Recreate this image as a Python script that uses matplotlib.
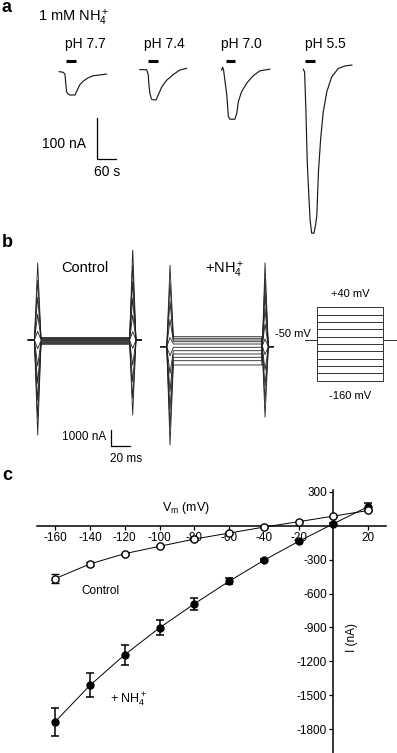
import matplotlib
matplotlib.use('Agg')
import matplotlib.pyplot as plt

plt.rcParams['font.family'] = ['Liberation Sans', 'DejaVu Sans']
plt.rcParams['mathtext.fontset'] = 'custom'
plt.rcParams['mathtext.rm'] = 'Liberation Sans'
plt.rcParams['mathtext.it'] = 'Liberation Sans:italic'
plt.rcParams['mathtext.bf'] = 'Liberation Sans:bold'

W, H, DPI = 397, 753, 100

# ---------------- panel a data (time s from trace start, current nA) ----------
ph_labels = ['pH 7.7', 'pH 7.4', 'pH 7.0', 'pH 5.5']
a_t_77 = [0, 12, 18, 20, 23, 27, 33, 49, 54, 64, 75, 90, 106, 127, 147]
a_i_77 = [0, -1.5, -6, -25, -49, -54, -57, -57, -49, -32, -23, -15, -10, -8, -6]
a_t_74 = [0, 21, 26, 28, 31, 36, 43, 50, 57, 68, 83, 104, 124, 145]
a_i_74 = [0, -0.5, -13, -38, -58, -72, -74, -74, -62, -42, -26, -12, -1, 3]
a_t_70 = [0, 3, 6, 10, 16, 21, 26, 41, 47, 52, 62, 78, 98, 119, 150]
a_i_70 = [0, 7, 0, -24, -61, -114, -120, -120, -106, -77, -53, -32, -14, -2, 2]
a_t_55 = [0, 4, 8, 12, 16, 21, 26, 33, 38, 42, 47, 54, 62, 73, 88, 109, 130, 151]
a_i_55 = [0, -7, -100, -222, -291, -368, -400, -400, -380, -356, -250, -168, -104,
          -55, -19, 2, 8, 10]
a_bar_start = [21, 25, 13, 5]     # s, NH4+ application start
a_bar_len = 30                    # s

# ---------------- panel b data -------------------------------------------------
step_mV = [40, 20, 0, -20, -40, -60, -80, -100, -120, -140, -160]
hold_mV = -50
ctrl_hold = 0
ctrl_level = [150, 115, 80, 45, 10, -30, -75, -120, -165, -215, -270]
ctrl_on = [4810, 3740, 2670, 1600, 530, -540, -1620, -2700, -3780, -4860, -5940]
ctrl_off = [-4690, -3640, -2600, -1560, -520, 520, 1560, 2600, 3640, 4680, 5720]
nh4_hold = -420
nh4_level = [206, 106, 0, -106, -250, -456, -669, -875, -1081, -1294, -1562]
nh4_on = [5100, 3970, 2840, 1700, 570, -560, -1680, -2800, -3910, -5030, -6150]
nh4_off = [-4400, -3420, -2440, -1470, -490, 480, 1430, 2390, 3340, 4290, 5250]

# ---------------- panel c data -------------------------------------------------
vm = [-160, -140, -120, -100, -80, -60, -40, -20, 0, 20]
ctrl_I = [-468, -338, -247, -182, -118, -65, -12, 36, 85, 135]
ctrl_err = [37, 20, 8, 8, 8, 8, 5, 5, 5, 5]
nh4_I = [-1733, -1412, -1141, -903, -691, -491, -306, -138, 18, 170]
nh4_err = [125, 107, 90, 66, 52, 27, 10, 10, 10, 27]
xticks_c = [-160, -140, -120, -100, -80, -60, -40, -20, 20]
yticks_c = [300, -300, -600, -900, -1200, -1500, -1800]

fig = plt.figure(figsize=(W / DPI, H / DPI), dpi=DPI)


def add_ax(x0, y0, x1, y1):
    ax = fig.add_axes([x0 / W, 1 - y1 / H, (x1 - x0) / W, (y1 - y0) / H])
    ax.set_axis_off()
    return ax


def ftext(x, y, s, **kw):
    fig.text(x / W, 1 - y / H, s, **kw)


# ================= panel a =====================================================
SA = 60 / 19.3      # s per pixel
NA = 100 / 41.0     # nA per pixel
axa = add_ax(0, 0, W, 250)
axa.set_xlim(0, W * SA)
axa.set_ylim(-180 * NA, 70 * NA)
a_t = [a_t_77, a_t_74, a_t_70, a_t_55]
a_i = [a_i_77, a_i_74, a_i_70, a_i_55]
a_x0 = [184, 435, 689, 943]
a_y0 = [-4, 1, 0, 2]
for k in range(4):
    axa.plot([a_x0[k] + t for t in a_t[k]], [a_y0[k] + i for i in a_i[k]],
             color='#1a1a1a', lw=0.85)
    axa.plot([a_x0[k] + a_bar_start[k], a_x0[k] + a_bar_start[k] + a_bar_len],
             [23, 23], color='black', lw=2.2, solid_capstyle='butt')
# scale bar
axa.plot([301.6, 301.6, 361.6], [-117.8, -217.8, -217.8], color='black', lw=0.9)

ftext(2, 8, 'a', fontsize=13, fontweight='bold', va='center', ha='left')
ftext(38, 18, '1 mM NH$_4^+$', fontsize=10.5, va='center', ha='left')
for x, lab in zip([85, 164, 241, 325], ph_labels):
    ftext(x, 44, lab, fontsize=10, va='center', ha='center')
ftext(86, 144, '100 nA', fontsize=10, va='center', ha='right')
ftext(107, 172, '60 s', fontsize=10, va='center', ha='center')

# ================= panel b =====================================================
ST = 0.95           # px per ms
SI = 62.5           # nA per px
axb = add_ax(0, 250, 300, 480)
axb.set_xlim(-37.7 / ST, (300 - 37.7) / ST)
axb.set_ylim(-140 * SI, 90 * SI)


def draw_family(ax, t_on, hold, levels, on_pk, off_pk):
    t_off = t_on + 100
    for lv, p_on, p_off in zip(levels, on_pk, off_pk):
        ts = [t_on - 10, t_on - 3.5, t_on, t_on + 3.5,
              t_off - 3.5, t_off, t_off + 3.5, t_off + 9]
        ys = [hold, hold, hold + p_on, lv, lv, hold + p_off, hold, hold]
        ax.plot(ts, ys, color='#202020', lw=0.6)


draw_family(axb, 0, ctrl_hold, ctrl_level, ctrl_on, ctrl_off)
draw_family(axb, 139.3, nh4_hold, nh4_level, nh4_on, nh4_off)
axb.plot([77.2, 77.2, 97.2], [-5625, -6625, -6625], color='black', lw=0.9)

ftext(2, 243, 'b', fontsize=13, fontweight='bold', va='center', ha='left')
ftext(85, 268, 'Control', fontsize=10.5, va='center', ha='center')
ftext(225, 270, '+NH$_4^+$', fontsize=10.5, va='center', ha='center')
ftext(106, 437, '1000 nA', fontsize=8.5, va='center', ha='right')
ftext(126, 459, '20 ms', fontsize=8.5, va='center', ha='center')

# voltage protocol
axp = add_ax(300, 290, W, 400)
SP = 0.654          # px per ms
SV = 0.367          # px per mV
axp.set_xlim(-17.3 / SP, (W - 317.3) / SP)
axp.set_ylim(40 - (400 - 307.3) / SV, 40 + (307.3 - 290) / SV)
for v in step_mV:
    axp.plot([-19, 0, 0, 100, 100, 125], [hold_mV, hold_mV, v, v, hold_mV, hold_mV],
             color='#333333', lw=0.7)
ftext(350, 294, '+40 mV', fontsize=8, va='center', ha='center')
ftext(350, 396, '-160 mV', fontsize=8, va='center', ha='center')
ftext(311, 334, '-50 mV', fontsize=8, va='center', ha='right')

# ================= panel c =====================================================
axc = fig.add_axes([36.7 / W, 1 - 753 / H, (386 - 36.7) / W, (753 - 490) / H])
axc.set_xlim(-170.6, 30.2)
axc.set_ylim(-2010, 316)
for s in ['top', 'right']:
    axc.spines[s].set_visible(False)
axc.spines['left'].set_position(('data', 0))
axc.spines['bottom'].set_position(('data', 0))
axc.spines['left'].set_linewidth(1.1)
axc.spines['bottom'].set_linewidth(1.1)
axc.set_xticks(xticks_c)
axc.set_xticklabels([str(v) for v in xticks_c])
axc.set_yticks(yticks_c)
axc.set_yticklabels([str(v) for v in yticks_c])
axc.tick_params(axis='both', direction='out', length=3, width=0.9,
                labelsize=8.5, pad=1.5)
axc.patch.set_alpha(0)

axc.errorbar(vm, nh4_I, yerr=nh4_err, color='black', lw=0.7, elinewidth=1.1,
             capsize=2.6, capthick=1.1, marker='o', markersize=5,
             markerfacecolor='black', markeredgecolor='black', zorder=3)
axc.errorbar(vm, ctrl_I, yerr=ctrl_err, color='black', lw=0.7, elinewidth=1.1,
             capsize=2.6, capthick=1.1, marker='o', markersize=5.2,
             markerfacecolor='white', markeredgecolor='black', markeredgewidth=1.0,
             zorder=4)

ftext(2, 476, 'c', fontsize=13, fontweight='bold', va='center', ha='left')
ftext(186, 508, 'V$_\\mathrm{m}$ (mV)', fontsize=9, va='center', ha='center')
ftext(352, 638, 'I (nA)', fontsize=8.5, va='center', ha='center', rotation=90)
ftext(100, 591, 'Control', fontsize=8.5, va='center', ha='center')
ftext(110, 700, '+ NH$_4^+$', fontsize=9, va='center', ha='left')

fig.savefig('out.png', dpi=DPI)
